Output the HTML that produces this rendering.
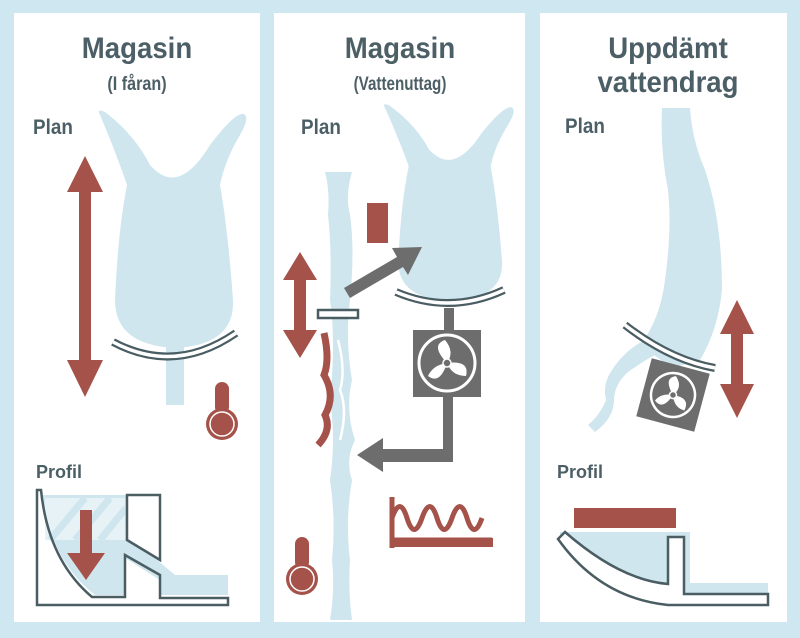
<!DOCTYPE html>
<html><head><meta charset="utf-8"><style>
html,body{margin:0;padding:0;background:#cfe7f0;}
svg{display:block;}
text{font-family:"Liberation Sans",sans-serif;fill:#4c5f66;font-weight:bold;}
</style></head><body>
<svg width="800" height="638" viewBox="0 0 800 638" xmlns="http://www.w3.org/2000/svg">
<defs>
<path id="res" d="M100 115 Q96 108 105 112 Q135 135 150 165 Q165 182 180 176 Q195 170 210 145 Q235 112 244 114 Q250 118 240 135 Q225 160 220 185 Q228 230 233 300 Q235 345 175 348 Q115 345 115 300 Q118 230 127 185 Q115 150 100 115Z" fill="#cfe6ef"/>
</defs>
<rect width="800" height="638" fill="#cfe7f0"/>
<rect x="14" y="13" width="246" height="609" fill="#fff"/>
<rect x="274" y="13" width="251" height="609" fill="#fff"/>
<rect x="540" y="13" width="247" height="609" fill="#fff"/>

<!-- titles -->
<g text-anchor="middle">
<text x="137" y="58" font-size="30" transform="translate(137 0) scale(0.92 1) translate(-137 0)">Magasin</text>
<text x="137" y="90" font-size="19" transform="translate(137 0) scale(0.85 1) translate(-137 0)">(I fåran)</text>
<text x="400" y="58" font-size="30" transform="translate(400 0) scale(0.92 1) translate(-400 0)">Magasin</text>
<text x="400" y="90" font-size="19" transform="translate(400 0) scale(0.8 1) translate(-400 0)">(Vattenuttag)</text>
<text x="668" y="58" font-size="30" transform="translate(668 0) scale(0.92 1) translate(-668 0)">Uppdämt</text>
<text x="668" y="92" font-size="30" transform="translate(668 0) scale(0.92 1) translate(-668 0)">vattendrag</text>
</g>
<g font-size="21">
<text x="33" y="134" transform="translate(33 0) scale(0.9 1) translate(-33 0)">Plan</text>
<text x="301" y="134" transform="translate(301 0) scale(0.9 1) translate(-301 0)">Plan</text>
<text x="565" y="133" transform="translate(565 0) scale(0.9 1) translate(-565 0)">Plan</text>
<text x="36" y="478" font-size="18">Profil</text>
<text x="557" y="478" font-size="18">Profil</text>
</g>

<!-- Panel 1 plan -->
<use href="#res"/>
<rect x="166" y="340" width="18" height="65" fill="#cfe6ef"/>
<path d="M113 342 Q175 375 236 333" fill="none" stroke="#4a5d63" stroke-width="8"/>
<path d="M113 342 Q175 375 236 333" fill="none" stroke="#fff" stroke-width="3.5"/>
<path d="M85 156 L67 192 L79 192 L79 360 L67 360 L85 397 L103 360 L91 360 L91 192 L103 192Z" fill="#a5524a"/>
<g transform="translate(222 410)">
<rect x="-7" y="-28" width="14" height="32" rx="7" fill="#a5524a"/>
<circle cx="0" cy="14" r="16" fill="#a5524a"/>
<circle cx="0" cy="14" r="12" fill="none" stroke="#fff" stroke-width="1.5"/>
</g>

<!-- Panel 1 profile -->
<path d="M43 495 Q50 560 95 595 L125 595 L125 558 L160 580 L160 595 L228 595 L228 575 L175 575 L145 550 L135 540 L130 495Z" fill="#cfe6ef"/>
<path d="M45 498 L125 498 L125 540 L45 540Z" fill="#e6f2f6"/>
<g stroke="#cfe6ef" stroke-width="7">
<line x1="50" y1="540" x2="85" y2="498"/><line x1="75" y1="540" x2="110" y2="498"/><line x1="100" y1="540" x2="126" y2="508"/>
</g>
<path d="M37 490 L37 605 L228 605 L228 598 L160 598 L160 575 L125 555 L125 597 L92 597 Q48 560 41 490Z" fill="none" stroke="#4a5d63" stroke-width="2.5"/>
<path d="M127 495 L160 495 L160 560 L127 540Z" fill="#fff" stroke="#4a5d63" stroke-width="2.5"/>
<path d="M80 510 L92 510 L92 553 L105 553 L86 580 L67 553 L80 553Z" fill="#a5524a"/>

<!-- Panel 2 plan -->
<use href="#res" transform="translate(385 108) scale(0.88 0.83) translate(-100 -115)"/>
<path d="M325 172 L352 172 Q345 195 350 215 Q355 250 350 300 Q345 340 352 380 Q345 410 355 440 Q345 460 352 480 Q345 520 350 560 Q348 590 352 620 L330 620 Q335 590 332 560 Q336 520 330 480 Q336 440 330 400 Q336 340 330 300 Q332 250 328 215 Q330 190 325 172Z" fill="#cfe6ef"/>
<path d="M338 340 Q346 370 340 390 Q348 410 340 440" fill="none" stroke="#fff" stroke-width="2.5"/>
<path d="M396 292 Q450 315 504 290" fill="none" stroke="#4a5d63" stroke-width="8"/>
<path d="M396 292 Q450 315 504 290" fill="none" stroke="#fff" stroke-width="3.5"/>
<rect x="367" y="203" width="21" height="40" fill="#a5524a"/>
<path d="M300 252 L283 280 L294 280 L294 330 L283 330 L300 358 L317 330 L306 330 L306 280 L317 280Z" fill="#a5524a"/>
<path d="M324 333 Q330 360 324 375 Q336 395 325 415 Q332 430 318 445" fill="none" stroke="#a5524a" stroke-width="7"/>
<rect x="318" y="310" width="40" height="8" fill="#fff" stroke="#4a5d63" stroke-width="2.5"/>
<path d="M350 298 L344 288 L397 257 L392 248 L422 247 L408 275 L403 267 L350 298Z" fill="#6d6d6d"/>
<rect x="444" y="308" width="10" height="24" fill="#6d6d6d"/>
<rect x="413" y="330" width="68" height="67" fill="#6d6d6d"/>
<circle cx="447" cy="363" r="28" fill="none" stroke="#fff" stroke-width="3"/>
<g fill="#fff"><path d="M447 363 Q430 345 445 340 Q455 352 447 363Z"/><path d="M447 363 Q470 360 466 376 Q452 376 447 363Z"/><path d="M447 363 Q440 385 428 376 Q433 365 447 363Z"/></g>
<circle cx="447" cy="363" r="4" fill="#6d6d6d" stroke="#fff" stroke-width="1.5"/>
<path d="M443 397 L453 397 L453 462 L383 462 L383 472 L357 455 L383 438 L383 449 L443 449Z" fill="#6d6d6d"/>
<path d="M392 548 L392 497 M392 540 L492 540 M392 518 Q400 495 407 518 T422 518 T437 518 T452 518 T467 518 T482 518" fill="none" stroke="#a5524a" stroke-width="5"/>
<rect x="390" y="538" width="103" height="9" fill="#a5524a"/>
<g transform="translate(302 565)">
<rect x="-7" y="-28" width="14" height="32" rx="7" fill="#a5524a"/>
<circle cx="0" cy="14" r="16" fill="#a5524a"/>
<circle cx="0" cy="14" r="12" fill="none" stroke="#fff" stroke-width="1.5"/>
</g>

<!-- Panel 3 plan -->
<path d="M662 108 L690 108 Q692 140 705 170 Q722 220 722 290 Q718 330 700 360 L672 368 L640 345 Q660 320 665 280 Q672 230 668 190 Q660 150 662 108Z" fill="#cfe6ef"/>
<path d="M645 340 Q625 350 612 370 Q602 385 606 400 Q600 415 588 425 L595 432 Q614 418 614 400 Q614 385 628 372 Q645 360 655 355Z" fill="#cfe6ef"/>
<path d="M625 325 Q670 360 715 368" fill="none" stroke="#4a5d63" stroke-width="8"/>
<path d="M625 325 Q670 360 715 368" fill="none" stroke="#fff" stroke-width="3.5"/>
<g transform="translate(673 395) rotate(15)">
<rect x="-30" y="-30" width="60" height="60" fill="#6d6d6d"/>
<circle r="22" fill="none" stroke="#fff" stroke-width="2.5"/>
<g fill="#fff"><path d="M0 0 Q-14 -14 -2 -19 Q8 -10 0 0Z"/><path d="M0 0 Q18 -2 15 12 Q4 12 0 0Z"/><path d="M0 0 Q-6 18 -16 10 Q-12 1 0 0Z"/></g>
<circle r="3.5" fill="#6d6d6d" stroke="#fff" stroke-width="1.5"/>
</g>
<path d="M737 300 L720 334 L731 334 L731 384 L720 384 L737 418 L754 384 L743 384 L743 334 L754 334Z" fill="#a5524a"/>
<!-- Panel 3 profile -->
<rect x="574" y="508" width="102" height="20" fill="#a5524a"/>
<path d="M560 532 L690 532 L690 583 L768 583 L768 598 L670 598 Q600 590 560 540Z" fill="#cfe6ef"/>
<path d="M558 539 L565 532 Q620 580 668 584 L668 537 L684 537 L684 594 L768 594 L768 605 L668 605 Q600 598 558 539Z" fill="#fff" stroke="#4a5d63" stroke-width="2.5"/>
</svg>
</body></html>
